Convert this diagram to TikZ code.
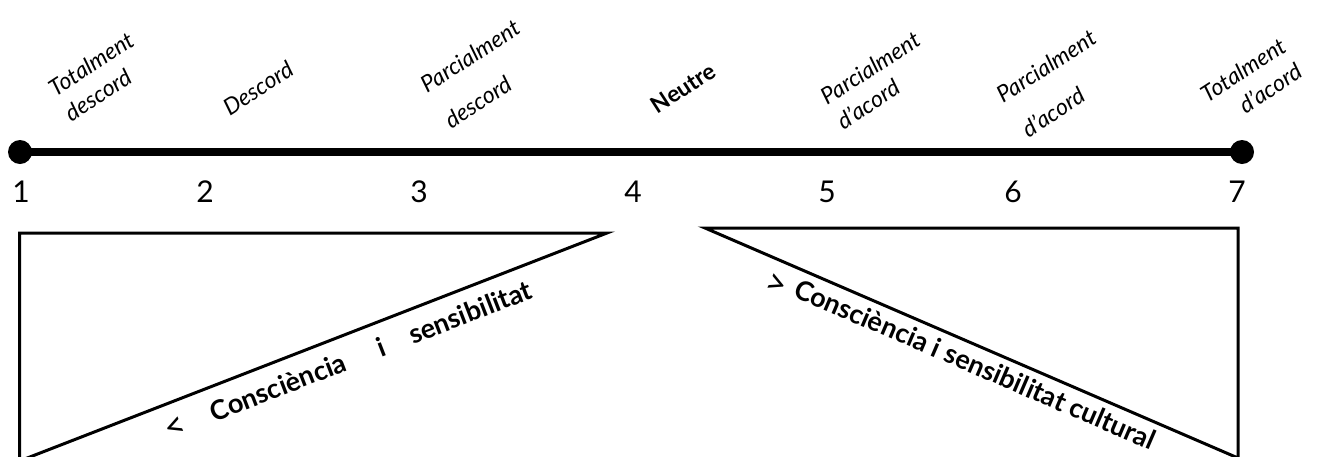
\documentclass[tikz,border=0pt]{standalone}
\usepackage{fontspec}
\setmainfont{Lato}
\begin{document}
\begin{tikzpicture}[x=1pt,y=-1pt,
  lbl/.style={font=\itshape\fontsize{23}{30}\selectfont, rotate=33, inner sep=0pt},
  num/.style={font=\fontsize{30}{36}\selectfont, inner sep=0pt, anchor=base},
  diag/.style={font=\bfseries\fontsize{27}{32}\selectfont, inner sep=0pt},
  sign/.style={font=\fontsize{36}{40}\selectfont, inner sep=0pt},
  dot/.style={circle, fill=black, minimum size=24pt, inner sep=0pt},
  tri/.style={line width=3pt, line join=miter}]
\useasboundingbox (0,0) rectangle (1319,456);
% scale line
\node[dot] (d1) at (20,152) {};
\node[dot] (d7) at (1242,152) {};
\draw[line width=8pt] (d1.center) -- (d7.center);
% numbers
\node[num] (n1) at (21,202) {1};
\node[num] (n2) at (205,202) {2};
\node[num] (n3) at (419,202) {3};
\node[num] (n4) at (633,202) {4};
\node[num] (n5) at (827,202) {5};
\node[num] (n6) at (1013,202) {6};
\node[num] (n7) at (1237,202) {7};
% labels
\node[lbl] (l1a) at (91,64) {Totalment};
\node[lbl] (l1b) at (98,95) {descord};
\node[lbl] (l2) at (258,88) {Descord};
\node[lbl] (l3a) at (470,56) {Parcialment};
\node[lbl] (l3b) at (478,102) {descord};
\node[lbl, font=\bfseries\fontsize{23}{30}\selectfont] (l4) at (683,88) {Neutre};
\node[lbl] (l5a) at (870,68) {Parcialment};
\node[lbl] (l5b) at (868,104) {d’acord};
\node[lbl] (l6a) at (1046,66) {Parcialment};
\node[lbl] (l6b) at (1053,112) {d’acord};
\node[lbl] (l7a) at (1243,70) {Totalment};
\node[lbl] (l7b) at (1270,88) {d’acord};
% left triangle
\coordinate (a1) at (19.5,233);
\coordinate (a2) at (607,233);
\coordinate (a3) at (19.5,461);
\draw[tri] (a1) -- (a2) -- (a3) -- cycle;
% right triangle
\coordinate (b1) at (705,228);
\coordinate (b2) at (1238,228);
\coordinate (b3) at (1238,458);
\draw[tri] (b1) -- (b2) -- (b3) -- cycle;
% diagonal texts
\node[sign, rotate=21.2] (t1) at (176,428) {<};
\node[diag, rotate=21.2] (t2) at (278,387) {Consciència};
\node[diag, rotate=21.2] (t3) at (381,347) {i};
\node[diag, rotate=21.2] (t4) at (470,312) {sensibilitat};
\node[sign, rotate=-23.3] (t5) at (776,285) {>};
\node[diag, rotate=-23.3, anchor=west] (t6) at (796,287) {Consciència i sensibilitat cultural};
\end{tikzpicture}
\end{document}
